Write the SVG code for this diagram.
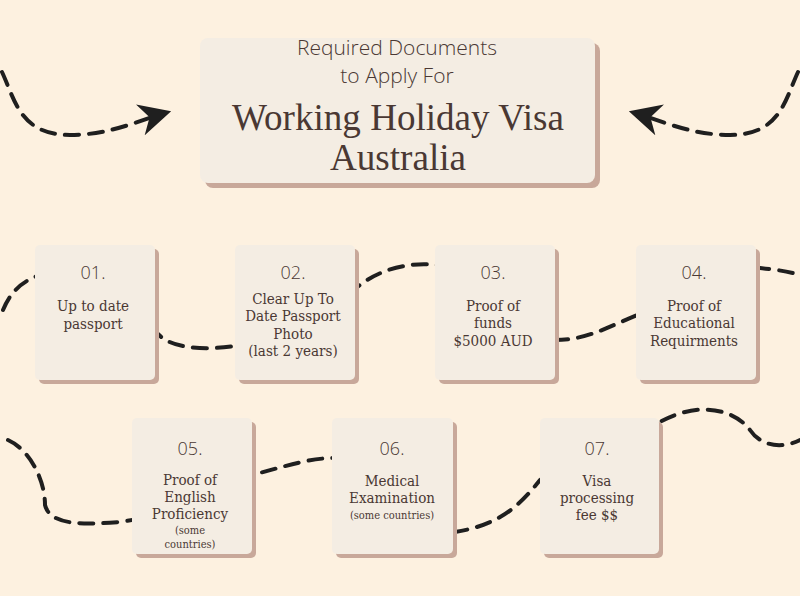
<svg xmlns="http://www.w3.org/2000/svg" width="800" height="596" viewBox="0 0 800 596">
<style>
.sh{fill:#c8a89a}
.cd{fill:#f4ede3}
.ln{fill:none;stroke:#1f1f1f;stroke-width:4;stroke-dasharray:14 10;stroke-linecap:round}
.num{font-family:"Open Sans",sans-serif;font-weight:300;font-size:18px;fill:#4a3833;text-anchor:middle}
.bd{font-family:"DejaVu Serif Condensed","Liberation Serif",serif;font-size:15px;fill:#4a3833;text-anchor:middle}
.sm{font-size:11px}
.hd{font-family:"Open Sans",sans-serif;font-weight:300;font-size:21px;fill:#4a3833;text-anchor:middle}
.big{font-family:"Liberation Serif",serif;font-size:38px;fill:#4a3833;text-anchor:middle}
</style>
<defs>
<marker id="ar" viewBox="0 0 10 10" refX="8" refY="5" markerWidth="8" markerHeight="8" orient="auto" markerUnits="strokeWidth">
<path d="M0,0 L10,5 L0,10 L3,5 Z" fill="#1f1f1f"/>
</marker>
</defs>
<rect width="800" height="596" fill="#fdf1e0"/>
<g id="connectors">
<path class="ln" d="M2,72 C15,100 20,135 70,135 C110,135 140,120 165,113" marker-end="url(#ar)"/>
<path class="ln" d="M798,72 C785,100 780,135 730,135 C690,135 660,120 635,113" marker-end="url(#ar)"/>
<path class="ln" d="M3,310 C15,280 40,270 80,270 C130,270 140,300 155,330 C170,355 230,350 260,340 C320,320 340,300 360,285 C390,262 430,260 460,270 C520,290 520,340 555,340 C590,340 610,325 650,310 C700,280 730,265 760,268 C780,270 790,272 800,275"/>
<path class="ln" d="M8,440 C30,450 45,480 45,505 C50,525 80,525 120,522 C200,510 210,480 252,475 C290,465 310,458 335,458 C380,460 420,520 455,532 C500,525 520,505 540,480 C580,450 630,430 660,422 C700,400 735,410 750,430 C760,445 780,450 800,440"/>
</g>
<g id="title">
<rect class="sh" x="205" y="43" width="395" height="145" rx="8"/>
<rect class="cd" x="200" y="38" width="395" height="145" rx="8"/>
<text class="hd" x="397" y="55">Required Documents</text>
<text class="hd" x="397" y="83">to Apply For</text>
<text class="big" x="398" y="130" textLength="332" lengthAdjust="spacingAndGlyphs">Working Holiday Visa</text>
<text class="big" x="398" y="170" textLength="136" lengthAdjust="spacingAndGlyphs">Australia</text>
</g>
<g id="n1">
<rect class="sh" x="39" y="249" width="120" height="135" rx="5"/>
<rect class="cd" x="35" y="245" width="120" height="135" rx="5"/>
<text class="num" x="93" y="279">01.</text>
<text class="bd" x="93" y="311">Up to date</text>
<text class="bd" x="93" y="329">passport</text>
</g>
<g id="n2">
<rect class="sh" x="239" y="249" width="120" height="135" rx="5"/>
<rect class="cd" x="235" y="245" width="120" height="135" rx="5"/>
<text class="num" x="293" y="279">02.</text>
<text class="bd" x="293" y="304">Clear Up To</text>
<text class="bd" x="293" y="321">Date Passport</text>
<text class="bd" x="293" y="339">Photo</text>
<text class="bd" x="293" y="356">(last 2 years)</text>
</g>
<g id="n3">
<rect class="sh" x="439" y="249" width="120" height="135" rx="5"/>
<rect class="cd" x="435" y="245" width="120" height="135" rx="5"/>
<text class="num" x="493" y="279">03.</text>
<text class="bd" x="493" y="311">Proof of</text>
<text class="bd" x="493" y="328">funds</text>
<text class="bd" x="493" y="346">$5000 AUD</text>
</g>
<g id="n4">
<rect class="sh" x="640" y="249" width="120" height="135" rx="5"/>
<rect class="cd" x="636" y="245" width="120" height="135" rx="5"/>
<text class="num" x="694" y="279">04.</text>
<text class="bd" x="694" y="311">Proof of</text>
<text class="bd" x="694" y="328">Educational</text>
<text class="bd" x="694" y="346">Requirments</text>
</g>
<g id="n5">
<rect class="sh" x="136" y="422" width="120" height="136" rx="5"/>
<rect class="cd" x="132" y="418" width="120" height="136" rx="5"/>
<text class="num" x="190" y="455">05.</text>
<text class="bd" x="190" y="485">Proof of</text>
<text class="bd" x="190" y="502">English</text>
<text class="bd" x="190" y="519">Proficiency</text>
<text class="bd sm" x="190" y="534">(some</text>
<text class="bd sm" x="190" y="548">countries)</text>
</g>
<g id="n6">
<rect class="sh" x="336" y="422" width="121" height="136" rx="5"/>
<rect class="cd" x="332" y="418" width="121" height="136" rx="5"/>
<text class="num" x="392" y="455">06.</text>
<text class="bd" x="392" y="486">Medical</text>
<text class="bd" x="392" y="503">Examination</text>
<text class="bd sm" x="392" y="519">(some countries)</text>
</g>
<g id="n7">
<rect class="sh" x="544" y="422" width="119" height="136" rx="5"/>
<rect class="cd" x="540" y="418" width="119" height="136" rx="5"/>
<text class="num" x="597" y="455">07.</text>
<text class="bd" x="597" y="486">Visa</text>
<text class="bd" x="597" y="503">processing</text>
<text class="bd" x="597" y="520">fee $$</text>
</g>
</svg>
